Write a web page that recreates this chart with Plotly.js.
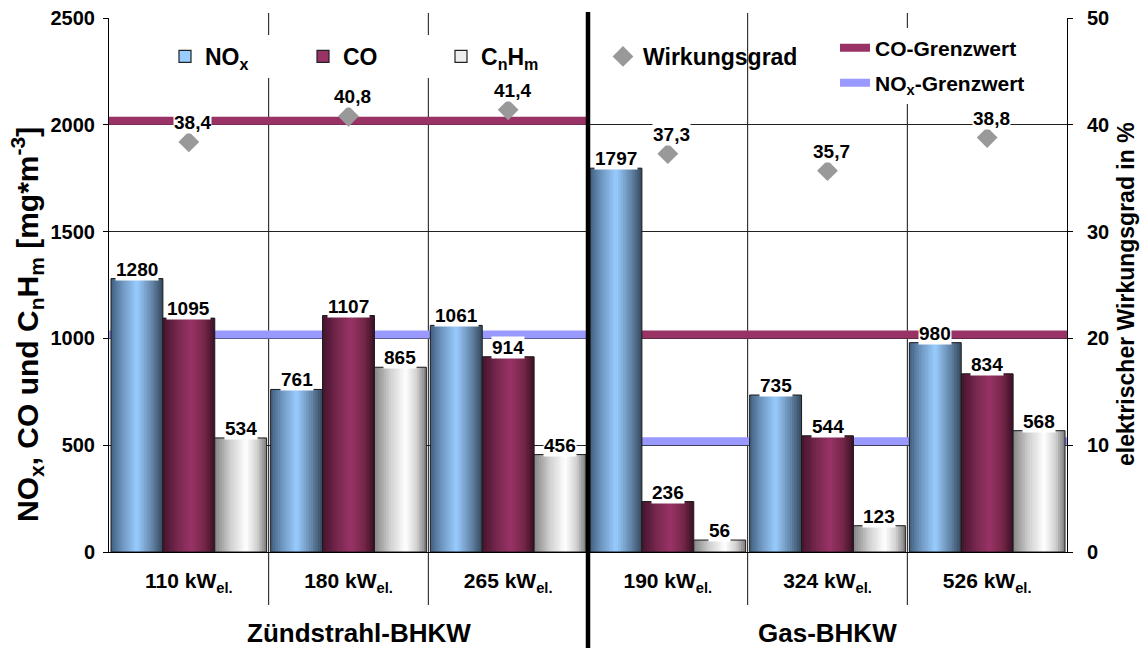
<!DOCTYPE html>
<html><head><meta charset="utf-8">
<script src="https://cdn.plot.ly/plotly-3.0.1.min.js"></script>
<style>html,body{margin:0;padding:0;background:#fff}#chart{width:1144px;height:648px}</style>
</head><body><div id="chart"></div>
<script>
// ---------------- data ----------------
const categories = ['110 kW<sub>el.</sub>', '180 kW<sub>el.</sub>', '265 kW<sub>el.</sub>', '190 kW<sub>el.</sub>', '324 kW<sub>el.</sub>', '526 kW<sub>el.</sub>'];
const groupNames = ['Zündstrahl-BHKW', 'Gas-BHKW'];
const groupSizes = [3, 3];
const noxValues = [1280, 761, 1061, 1797, 735, 980];
const coValues = [1095, 1107, 914, 236, 544, 834];
const cnhmValues = [534, 865, 456, 56, 123, 568];
const efficiency = [38.4, 40.8, 41.4, 37.3, 35.7, 38.8];
const coLimit = [2000, 1000];
const noxLimit = [1000, 500];

// ---------------- styling ----------------
const FONT = 'Liberation Sans, Arial, sans-serif';
const M = {l: 109, r: 77, t: 18, b: 96};
const W = 1144, H = 648;
const plotH = H - M.t - M.b;
const pw = W - M.l - M.r;
const Y_MAX = 2500;
const BAR_W = 0.325, GROUP_START = -0.4875, STRIPS = 22;

function hex2rgb(h){return [1,3,5].map(i=>parseInt(h.substr(i,2),16));}
function grad(stops, t){
  for(let i=0;i<stops.length-1;i++){
    const [t0,c0]=stops[i],[t1,c1]=stops[i+1];
    if(t>=t0 && t<=t1){
      const f=(t-t0)/(t1-t0), a=hex2rgb(c0), b=hex2rgb(c1);
      return 'rgb('+a.map((v,j)=>Math.round(v+(b[j]-v)*f)).join(',')+')';
    }
  }
  return stops[stops.length-1][1];
}
const series = [
  {name:'NO<sub>x</sub>', values:noxValues, stops:[[0,'#3f5f80'],[0.22,'#6f96bf'],[0.5,'#99ccff'],[0.78,'#6688aa'],[1,'#34485d']], swatch:'#99ccff'},
  {name:'CO', values:coValues, stops:[[0,'#45142d'],[0.3,'#7a2850'],[0.55,'#993366'],[0.8,'#752648'],[1,'#3a1026']], swatch:'#993366'},
  {name:'C<sub>n</sub>H<sub>m</sub>', values:cnhmValues, stops:[[0,'#858585'],[0.3,'#cfcfcf'],[0.6,'#ffffff'],[0.82,'#d0d0d0'],[1,'#7a7a7a']], swatch:'#eeeeee'}
];

const traces = [];
series.forEach((s, si) => {
  const start = GROUP_START + si*BAR_W;
  const sw = BAR_W/STRIPS;
  for(let k=0;k<STRIPS;k++){
    traces.push({type:'bar', x:categories, y:s.values, offset:start + k*sw,
      width: k<STRIPS-1 ? sw*1.7 : sw, marker:{color:grad(s.stops,(k+0.5)/STRIPS), line:{width:0}},
      showlegend:false, hoverinfo:'skip'});
  }
  traces.push({type:'bar', x:categories, y:s.values, offset:start, width:BAR_W,
    marker:{color:'rgba(0,0,0,0)', line:{color:'#1a1a1a', width:1}}, showlegend:false, hoverinfo:'skip'});
});
// legend entries for the bar series
series.forEach(s => {
  traces.push({type:'bar', x:categories, y:s.values.map(()=>null), name:s.name, legend:'legend',
    marker:{color:s.swatch, line:{color:'#222', width:1.2}}, showlegend:true});
});
traces.push({type:'scatter', mode:'markers', x:categories, y:efficiency, yaxis:'y2', name:'Wirkungsgrad',
  legend:'legend2', marker:{symbol:'diamond', size:16, color:'#999999'}, hoverinfo:'skip'});

// ---------------- shapes ----------------
const shapes = [];
const pxToY = px => px*Y_MAX/plotH;
let pos = 0;
groupSizes.forEach((n, gi) => {
  const x0 = pos - 0.5, x1 = pos + n - 0.5;
  shapes.push({type:'line', xref:'x', yref:'y', x0:x0, x1:x1, y0:coLimit[gi]+pxToY(4), y1:coLimit[gi]+pxToY(4),
    line:{color:'#993366', width:8}, layer:'between', showlegend: gi===0, name:'CO-Grenzwert', legend:'legend3', legendgroup:'co'});
  shapes.push({type:'line', xref:'x', yref:'y', x0:x0, x1:x1, y0:noxLimit[gi]+pxToY(4), y1:noxLimit[gi]+pxToY(4),
    line:{color:'#9999ff', width:8}, layer:'between', showlegend: gi===0, name:'NO<sub>x</sub>-Grenzwert', legend:'legend4', legendgroup:'nox'});
  pos += n;
});
// separators
const groupBounds = [];
let c = 0; groupSizes.forEach(n => {c += n; groupBounds.push(c);});
for(let k=1;k<categories.length;k++){
  if(groupBounds.includes(k)){
    shapes.push({type:'line', xref:'x', yref:'paper', x0:k-0.5, x1:k-0.5, y0:-(M.b)/plotH, y1:1+6/plotH,
      line:{color:'#000', width:4.5}, layer:'above'});
  } else {
    shapes.push({type:'line', xref:'x', yref:'paper', x0:k-0.5, x1:k-0.5, y0:-53/plotH, y1:1+5/plotH,
      line:{color:'#111', width:1}, layer:'between'});
  }
}

// ---------------- annotations ----------------
const annotations = [];
const lblFont = {family:FONT, size:19, color:'#000', weight:'bold'};
series.forEach((s, si) => {
  const off = GROUP_START + si*BAR_W + BAR_W/2;
  s.values.forEach((v, i) => {
    annotations.push({x:i+off, y:v, xref:'x', yref:'y', text:String(v), showarrow:false,
      yanchor:'bottom', yshift:-2, font:lblFont, bgcolor:'#fff', borderpad:0});
  });
});
efficiency.forEach((v, i) => {
  annotations.push({x:i, y:v, xref:'x', yref:'y2', text:v.toFixed(1).replace('.', ','), showarrow:false,
    yanchor:'bottom', yshift:8, xshift:4, font:lblFont, bgcolor:'#fff', borderpad:0});
});
pos = 0;
const groupShift = [10, 0];
groupSizes.forEach((n, gi) => {
  annotations.push({x:pos + (n-1)/2, y:-(633-552)/plotH, xref:'x', yref:'paper', text:groupNames[gi], showarrow:false,
    xanchor:'center', yanchor:'middle', xshift:groupShift[gi], font:{family:FONT, size:26, color:'#000', weight:'bold'}});
  pos += n;
});
annotations.push({xref:'paper', yref:'paper', x:(27-M.l)/pw, y:(552-325)/plotH, textangle:-90, showarrow:false,
  xanchor:'center', yanchor:'middle',
  text:'NO<sub>x</sub>, CO und C<sub>n</sub>H<sub>m</sub> [mg*m<sup>-3</sup>]', font:{family:FONT, size:30, color:'#000', weight:'bold'}});
annotations.push({xref:'paper', yref:'paper', x:(1126-M.l)/pw, y:(552-294)/plotH, textangle:-90, showarrow:false,
  xanchor:'center', yanchor:'middle',
  text:'elektrischer Wirkungsgrad in %', font:{family:FONT, size:23, color:'#000', weight:'bold'}});

const layout = {
  width:W, height:H, margin:M, paper_bgcolor:'#fff', plot_bgcolor:'#fff',
  font:{family:FONT, color:'#000'}, barmode:'overlay', hovermode:false,
  xaxis:{type:'category', range:[-0.5, categories.length-0.5], showgrid:false, zeroline:false, ticks:'',
    showline:true, linecolor:'#000', linewidth:1, ticklabelstandoff:10, automargin:false,
    tickfont:{family:FONT, size:21, color:'#000', weight:'bold'}},
  yaxis:{range:[0, Y_MAX], dtick:500, showgrid:true, gridcolor:'#222', gridwidth:1, zeroline:false,
    showline:true, linecolor:'#000', linewidth:1, ticks:'outside', ticklen:5, tickcolor:'#000', automargin:false,
    ticklabelstandoff:4, tickfont:{family:FONT, size:20, color:'#000', weight:'bold'}},
  yaxis2:{overlaying:'y', side:'right', range:[0, 50], dtick:10, showgrid:false, zeroline:false,
    showline:true, linecolor:'#000', linewidth:1, ticks:'outside', ticklen:5, tickcolor:'#000', automargin:false,
    ticklabelstandoff:10, tickfont:{family:FONT, size:20, color:'#000', weight:'bold'}},
  legend:{orientation:'h', x:(165-M.l)/pw, y:(552-35)/plotH, xanchor:'left', yanchor:'top', bgcolor:'#fff',
    entrywidth:93, entrywidthmode:'pixels', font:{family:FONT, size:23, color:'#000', weight:'bold'}, traceorder:'normal', itemclick:false},
  legend2:{orientation:'h', x:(603-M.l)/pw, y:(552-35)/plotH, xanchor:'left', yanchor:'top', bgcolor:'rgba(0,0,0,0)',
    font:{family:FONT, size:23, color:'#000', weight:'bold'}, itemclick:false},
  legend3:{orientation:'v', x:(835-M.l)/pw, y:(552-48)/plotH, xanchor:'left', yanchor:'middle', bgcolor:'#fff',
    font:{family:FONT, size:21, color:'#000', weight:'bold'}, itemclick:false},
  legend4:{orientation:'v', x:(835-M.l)/pw, y:(552-83)/plotH, xanchor:'left', yanchor:'middle', bgcolor:'#fff',
    font:{family:FONT, size:21, color:'#000', weight:'bold'}, itemclick:false},
  shapes:shapes, annotations:annotations
};
Plotly.newPlot('chart', traces, layout, {displayModeBar:false, staticPlot:true});
</script></body></html>
